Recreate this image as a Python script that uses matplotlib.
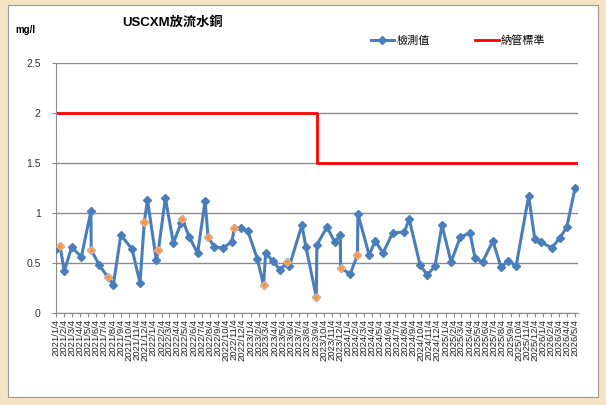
import datetime as dt
import matplotlib
matplotlib.use('Agg')
import matplotlib.pyplot as plt
import matplotlib.dates as mdates
from matplotlib.patches import Rectangle
from matplotlib.ticker import FuncFormatter, MultipleLocator

plt.rcParams['font.family'] = ['Liberation Sans', 'Noto Sans CJK TC']

# regular monthly samples
sample_dates = [
    '2021/1/4', '2021/2/4', '2021/3/4', '2021/4/9', '2021/5/15', '2021/6/15',
    '2021/8/7', '2021/9/4', '2021/10/16', '2021/11/15', '2021/12/13', '2022/1/15',
    '2022/2/18', '2022/3/20', '2022/4/18', '2022/5/18', '2022/6/19', '2022/7/17',
    '2022/8/21', '2022/9/21', '2022/10/25', '2022/11/27', '2022/12/24', '2023/1/29',
    '2023/3/1', '2023/3/27', '2023/4/25', '2023/5/29', '2023/7/15', '2023/7/30',
    '2023/9/9', '2023/10/17', '2023/11/15', '2023/12/6', '2024/1/12', '2024/2/10',
    '2024/3/23', '2024/4/15', '2024/5/14', '2024/6/19', '2024/8/2', '2024/8/20',
    '2024/9/30', '2024/10/27', '2024/11/25', '2024/12/21', '2025/1/24', '2025/2/28',
    '2025/4/5', '2025/4/24', '2025/5/22', '2025/6/30', '2025/7/30', '2025/8/27',
    '2025/9/25', '2025/11/11', '2025/12/4', '2025/12/28', '2026/2/5', '2026/3/8',
    '2026/4/3', '2026/5/4',
]
sample_values = [
    0.64, 0.42, 0.66, 0.56, 1.02, 0.48,
    0.28, 0.78, 0.64, 0.30, 1.13, 0.53,
    1.15, 0.70, 0.90, 0.76, 0.60, 1.12,
    0.66, 0.65, 0.71, 0.85, 0.82, 0.54,
    0.60, 0.52, 0.43, 0.47, 0.88, 0.66,
    0.68, 0.86, 0.71, 0.78, 0.39, 0.99,
    0.58, 0.72, 0.60, 0.80, 0.81, 0.94,
    0.48, 0.38, 0.47, 0.88, 0.51, 0.76,
    0.80, 0.55, 0.51, 0.72, 0.46, 0.52,
    0.47, 1.17, 0.74, 0.71, 0.65, 0.75,
    0.86, 1.25,
]

# extra samples (orange markers)
extra_dates = [
    '2021/1/19', '2021/5/16', '2021/7/17', '2021/12/1', '2022/1/23', '2022/4/23',
    '2022/7/28', '2022/11/4', '2023/2/21', '2023/5/20', '2023/9/7', '2023/12/7',
    '2024/2/8',
]
extra_values = [0.67, 0.63, 0.36, 0.91, 0.63, 0.94, 0.76, 0.85, 0.28, 0.51, 0.16, 0.45, 0.58]

# discharge standard
limit_dates = ['2021/1/4', '2023/9/8', '2026/5/15']
limit_values = [2.0, 1.5, 1.5]

title = 'USCXM放流水銅'
unit = 'mg/l'
series_names = ['檢測值', '納管標準']


def to_date(s):
    return dt.datetime.strptime(s, '%Y/%m/%d')


pts = sorted([(to_date(d), v) for d, v in zip(sample_dates, sample_values)] +
             [(to_date(d), v) for d, v in zip(extra_dates, extra_values)])
line_x = [p[0] for p in pts]
line_y = [p[1] for p in pts]

fig = plt.figure(figsize=(6.06, 4.05), dpi=100, facecolor='#f4e4c4')
fig.patches.append(Rectangle((8 / 606, 8 / 405), 590 / 606, 392 / 405,
                             transform=fig.transFigure, facecolor='white',
                             edgecolor='#9a9a9a', lw=0.8, zorder=-10))

ax = fig.add_axes([56 / 606, 1 - 313 / 405, 522 / 606, 250 / 405])
ax.set_facecolor('none')

ax.plot(line_x, line_y, color='#4a7ebb', lw=2.2, marker='D', ms=4.5,
        mec='#4a7ebb', mfc='#4a7ebb', label=series_names[0], zorder=3)
ax.plot([to_date(d) for d in extra_dates], extra_values, ls='none', marker='D',
        ms=4.2, mfc='#f79646', mec='#fbc08f', mew=0.6, zorder=4)
ax.plot([to_date(d) for d in limit_dates], limit_values, color='#ff0000', lw=2,
        drawstyle='steps-post', label=series_names[1], zorder=2)

ax.set_ylim(0, 2.5)
ax.yaxis.set_major_locator(MultipleLocator(0.5))
ax.yaxis.set_major_formatter(FuncFormatter(lambda v, p: f'{v:g}'))
ax.set_xlim(to_date('2021/1/4'), to_date('2026/5/15'))
ax.xaxis.set_major_locator(mdates.MonthLocator(bymonthday=4))
ax.xaxis.set_major_formatter(FuncFormatter(
    lambda v, p: '{0.year}/{0.month}/{0.day}'.format(mdates.num2date(v))))
ax.tick_params(axis='x', labelrotation=90, labelsize=6.8, length=3,
               color='#888888', pad=1, labelcolor='#222222')
ax.tick_params(axis='y', labelsize=7.5, length=3, color='#888888', pad=8,
               labelcolor='#333333')

ax.grid(axis='y', color='#8c8c8c', lw=1)
for s in ['top', 'right']:
    ax.spines[s].set_visible(False)
for s in ['left', 'bottom']:
    ax.spines[s].set_color('#8c8c8c')

fig.text(122 / 606, 1 - 22 / 405, title, fontsize=9.5, fontweight='bold',
         va='center', ha='left')
fig.text(15 / 606, 1 - 30 / 405, unit, fontsize=7, fontweight='bold',
         va='center', ha='left')
fig.legend(loc='center', bbox_to_anchor=(458 / 606, 1 - 41 / 405), ncol=2,
           frameon=False, fontsize=8, handlelength=2.1, columnspacing=4.1,
           handletextpad=0.2)

fig.savefig('out.png', dpi=100, facecolor=fig.get_facecolor())
